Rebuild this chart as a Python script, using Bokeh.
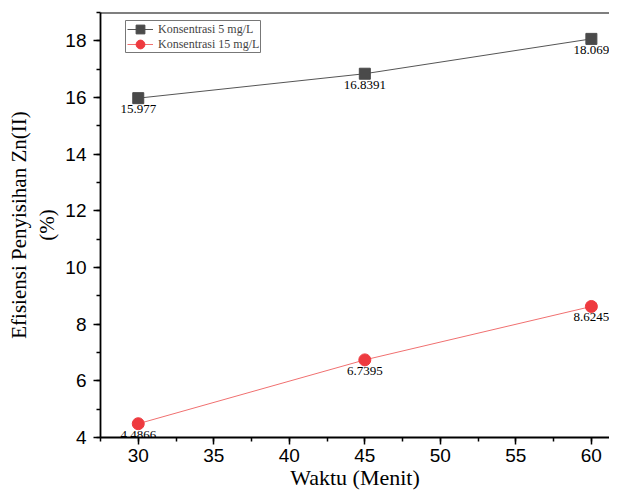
from bokeh.plotting import figure
from bokeh.models import (Range1d, ColumnDataSource, Legend, LegendItem, SingleIntervalTicker,
                          Span, BoxAnnotation)
from bokeh.core.properties import value
from bokeh.embed import file_html
from bokeh.resources import INLINE

waktu = [30, 45, 60]
konsentrasi_5 = [15.977, 16.8391, 18.069]
konsentrasi_15 = [4.4866, 6.7395, 8.6245]
labels_5 = ["15.977", "16.8391", "18.069"]
labels_15 = ["4.4866", "6.7395", "8.6245"]
series_names = ["Konsentrasi 5 mg/L", "Konsentrasi 15 mg/L"]

W, H = 609, 494
LEFT, TOP, BOTTOM = 100, 12, 57
p = figure(width=W, height=H, output_backend="svg", toolbar_location=None,
           x_range=Range1d(27.5, 61.2), y_range=Range1d(4, 19),
           min_border_left=LEFT, min_border_right=0, min_border_top=TOP, min_border_bottom=BOTTOM)
p.outline_line_color = None
p.grid.visible = False
p.background_fill_color = "white"

for ax in (p.xaxis[0], p.yaxis[0]):
    ax.axis_line_width = 1.8
    ax.axis_line_color = "black"
    ax.major_tick_line_color = "black"
    ax.minor_tick_line_color = "black"
    ax.major_tick_line_width = 1.5
    ax.minor_tick_line_width = 1.5
    ax.major_tick_in = 0
    ax.major_tick_out = 7
    ax.minor_tick_in = 0
    ax.minor_tick_out = 4
    ax.major_label_text_font = "Liberation Sans"
    ax.major_label_text_font_size = "19px"
    ax.major_label_text_color = "black"
    ax.axis_label_text_font = "Liberation Serif"
    ax.axis_label_text_font_size = "21px"
    ax.axis_label_text_font_style = "normal"
    ax.axis_label_text_color = "black"

p.xaxis[0].ticker = SingleIntervalTicker(interval=5, num_minor_ticks=2)
p.yaxis[0].ticker = SingleIntervalTicker(interval=2, num_minor_ticks=2)
p.xaxis[0].axis_label = "Waktu (Menit)"
p.xaxis[0].axis_label_text_font_size = "22px"
p.yaxis[0].axis_label = "Efisiensi Penyisihan Zn(II)\n(%)"
p.xaxis[0].major_label_standoff = 4
p.xaxis[0].axis_label_standoff = 0
p.yaxis[0].major_label_standoff = 7
p.yaxis[0].axis_label_standoff = 3

p.add_layout(Span(location=19, dimension="width", line_color="black", line_width=1.8))

s5 = ColumnDataSource(dict(x=waktu, y=konsentrasi_5, t=labels_5))
s15 = ColumnDataSource(dict(x=waktu, y=konsentrasi_15, t=labels_15))

l5 = p.line("x", "y", source=s5, line_color="#555555", line_width=1)
m5 = p.scatter("x", "y", source=s5, marker="square", size=11, fill_color="#4a4a4a", line_color="#4a4a4a")
l15 = p.line("x", "y", source=s15, line_color="#f07070", line_width=1)
m15 = p.scatter("x", "y", source=s15, marker="circle", size=12, fill_color="#ee3a3f", line_color="#ee3a3f")

for src in (s5, s15):
    p.text("x", "y", text="t", source=src, text_font=value("Liberation Serif"),
           text_font_size="13px", text_align="center", text_baseline="top",
           y_offset=7, text_color="black")

# legend frame (screen units relative to plot frame)
p.add_layout(BoxAnnotation(left=25, right=160, top=417, bottom=385,
                           left_units="screen", right_units="screen",
                           top_units="screen", bottom_units="screen",
                           fill_color="white", fill_alpha=1.0,
                           line_color="#777777", line_width=1, line_alpha=1.0))

rows = [(series_names[0], [l5, m5], 397), (series_names[1], [l15, m15], 382)]
for name, rends, ybot in rows:
    lg = Legend(items=[LegendItem(label=name, renderers=rends)], location=(27, ybot))
    lg.label_text_font = "Liberation Serif"
    lg.label_text_font_size = "12px"
    lg.label_height = 13
    lg.glyph_height = 22
    lg.glyph_width = 26
    lg.padding = 0
    lg.margin = 0
    lg.label_standoff = 5
    lg.border_line_color = None
    lg.background_fill_alpha = 0
    p.add_layout(lg, "center")

open("out.html", "w").write(file_html(p, INLINE))
